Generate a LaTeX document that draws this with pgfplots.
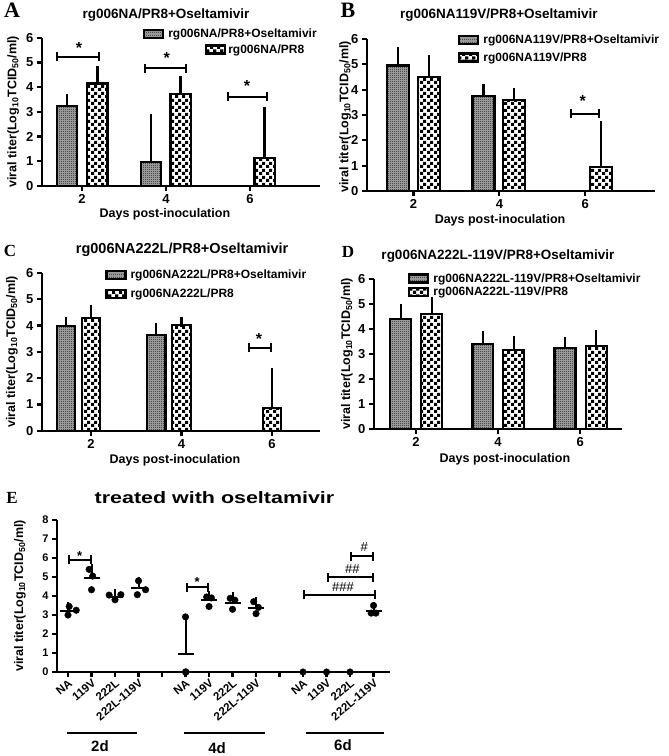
\documentclass[border=0pt]{standalone}
\usepackage{fontspec}
\setmainfont{Liberation Sans}
\newfontfamily\seriffont{Liberation Serif}
\usepackage{pgfplots}
\pgfplotsset{compat=1.18}
\usetikzlibrary{patterns,arrows.meta}

\pgfdeclarepatternformonly{bigchk}{\pgfpointorigin}{\pgfpoint{7pt}{7pt}}{\pgfpoint{7pt}{7pt}}{%
  \pgfpathrectangle{\pgfpointorigin}{\pgfpoint{3.5pt}{3.5pt}}%
  \pgfpathrectangle{\pgfpoint{3.5pt}{3.5pt}}{\pgfpoint{3.5pt}{3.5pt}}%
  \pgfusepath{fill}}
\pgfdeclarepatternformonly{finedot}{\pgfpointorigin}{\pgfpoint{2.4pt}{2.4pt}}{\pgfpoint{2.4pt}{2.4pt}}{%
  \pgfpathrectangle{\pgfpointorigin}{\pgfpoint{1.2pt}{1.2pt}}%
  \pgfusepath{fill}}

\newcommand{\fs}[1]{\bfseries\fontsize{#1}{#1}\selectfont}
\tikzset{brk/.style={line width=2pt, {Bar[width=9pt]}-{Bar[width=9pt]}}}

\pgfplotsset{
  gp/.style={
    scale only axis, anchor=south west,
    axis x line*=bottom, axis y line*=left,
    axis line style={line width=2.2pt},
    tick style={line width=2.2pt, black},
    major tick length=5pt, tick align=outside,
    ymin=0, ymax=6, ytick={0,...,6}, xtick={2,4,6},
    tick label style={font=\fs{13}},
    /pgf/number format/assume math mode=true,
    clip=false,
    legend style={draw=none, fill=none, font=\fs{12}, anchor=north west,
      legend cell align=left, inner sep=0pt, nodes={inner xsep=4pt, inner ysep=1pt}},
    label style={font=\fs{12.5}},
    title style={font=\fs{13.5}, anchor=center, yshift=-6pt},
    xlabel style={anchor=center},
    ylabel style={anchor=center},
  },
  bars/.style={ybar, bar shift=0pt, bar width=#1, draw=black, line width=2.2pt,
    legend image code/.code={\draw[##1] (0pt,-4pt) rectangle (19pt,4pt);},
    /pgfplots/error bars/y dir=plus, /pgfplots/error bars/y explicit,
    /pgfplots/error bars/error bar style={line width=2.2pt, solid},
    /pgfplots/error bars/error mark options={line width=2.2pt, mark size=5pt, solid}},
  shiftleg/.style={legend image code/.code={\draw[##1, overlay] (62pt,-4pt) rectangle (81pt,4pt);}},
  osel/.style={fill=black!40, postaction={pattern=finedot, pattern color=black!70}},
  ctrl/.style={fill=white, postaction={pattern=bigchk}},
}

\begin{document}
\begin{tikzpicture}
\path[use as bounding box] (0,0) rectangle (669pt,756pt);

% ---------------- A ----------------
\begin{axis}[gp, at={(42pt,570pt)}, width=278pt, height=148.3pt,
  xmin=1.05, xmax=7.67,
  title={rg006NA/PR8+Oseltamivir}, title style={at={(0.446,1.153)}},
  xlabel={Days post-inoculation}, xlabel style={at={(0.442,-0.189)}},
  ylabel={viral titer(Log\textsubscript{10}TCID\textsubscript{50}/ml)}, ylabel style={at={(-0.104,0.5)}},
  legend style={at={(0.363,1.065)}, row sep=3pt}]
\addplot[bars=0.48, osel] coordinates {(1.64,3.23) +- (0,0.29) (3.64,0.97) +- (0,1.73)};
\addlegendentry{rg006NA/PR8+Oseltamivir}
\addplot[bars=0.48, ctrl, shiftleg] coordinates {(2.37,4.15) +- (0,0.51) (4.35,3.72) +- (0,0.53) (6.35,1.12) +- (0,1.88)};
\addlegendentry{\hspace*{60pt}rg006NA/PR8}
\draw[brk] (axis cs:1.38,5.23) -- (axis cs:2.43,5.23);
\draw[brk] (axis cs:3.48,4.76) -- (axis cs:4.50,4.76);
\draw[brk] (axis cs:5.45,3.61) -- (axis cs:6.43,3.61);
\node[font=\fs{16}, anchor=base] at (axis cs:1.93,5.38) {*};
\node[font=\fs{16}, anchor=base] at (axis cs:4.02,4.97) {*};
\node[font=\fs{16}, anchor=base] at (axis cs:5.93,3.83) {*};
\node[font=\seriffont\bfseries\fontsize{22}{22}\selectfont] at (axis description cs:-0.108,1.183) {A};
\end{axis}

% ---------------- B ----------------
\begin{axis}[gp, at={(367pt,565pt)}, width=288pt, height=152pt,
  xmin=0.92, xmax=7.62,
  title={rg006NA119V/PR8+Oseltamivir}, title style={at={(0.458,1.158)}},
  xlabel={Days post-inoculation}, xlabel style={at={(0.462,-0.19)}},
  ylabel={viral titer(Log\textsubscript{10}TCID\textsubscript{50}/ml)}, ylabel style={at={(-0.076,0.487)}},
  legend style={at={(0.316,1.033)}, row sep=5pt}]
\addplot[bars=0.51, osel] coordinates {(1.64,4.95) +- (0,0.54) (3.63,3.76) +- (0,0.28)};
\addlegendentry{rg006NA119V/PR8+Oseltamivir}
\addplot[bars=0.51, ctrl] coordinates {(2.36,4.49) +- (0,0.69) (4.34,3.60) +- (0,0.27) (6.36,0.96) +- (0,1.61)};
\addlegendentry{rg006NA119V/PR8}
\draw[brk] (axis cs:5.64,3.05) -- (axis cs:6.34,3.05);
\node[font=\fs{16}, anchor=base] at (axis cs:5.94,3.35) {*};
\node[font=\seriffont\bfseries\fontsize{22}{22}\selectfont] at (axis description cs:-0.066,1.187) {B};
\end{axis}

% ---------------- C ----------------
\begin{axis}[gp, at={(42pt,325.3pt)}, width=278pt, height=157.7pt,
  xmin=0.917, xmax=7.06,
  title={rg006NA222L/PR8+Oseltamivir}, title style={at={(0.504,1.146)}, font=\fs{14.5}},
  xlabel={Days post-inoculation}, xlabel style={at={(0.478,-0.186)}},
  ylabel={viral titer(Log\textsubscript{10}TCID\textsubscript{50}/ml)}, ylabel style={at={(-0.108,0.5)}},
  legend style={at={(0.227,1.026)}, row sep=7pt}]
\addplot[bars=0.41, osel] coordinates {(1.45,3.97) +- (0,0.16) (3.44,3.65) +- (0,0.27)};
\addlegendentry{rg006NA222L/PR8+Oseltamivir}
\addplot[bars=0.41, ctrl] coordinates {(2.0,4.29) +- (0,0.32) (4.0,4.01) +- (0,0.12) (6.0,0.85) +- (0,1.35)};
\addlegendentry{rg006NA222L/PR8}
\draw[brk] (axis cs:5.47,3.16) -- (axis cs:6.0,3.16);
\node[font=\fs{16}, anchor=base] at (axis cs:5.71,3.27) {*};
\node[font=\seriffont\bfseries\fontsize{17}{17}\selectfont] at (axis description cs:-0.115,1.14) {C};
\end{axis}

% ---------------- D ----------------
\begin{axis}[gp, at={(374pt,327pt)}, width=248pt, height=150pt,
  xmin=0.976, xmax=7.02,
  title={rg006NA222L-119V/PR8+Oseltamivir}, title style={at={(0.5,1.153)}},
  xlabel={Days post-inoculation}, xlabel style={at={(0.528,-0.2)}},
  ylabel={viral titer(Log\textsubscript{10}TCID\textsubscript{50}/ml)}, ylabel style={at={(-0.109,0.5)}},
  legend style={at={(0.137,1.045)}, row sep=1pt}]
\addplot[bars=0.51, osel] coordinates {(1.63,4.39) +- (0,0.40) (3.63,3.39) +- (0,0.33) (5.63,3.23) +- (0,0.26)};
\addlegendentry{rg006NA222L-119V/PR8+Oseltamivir}
\addplot[bars=0.51, ctrl] coordinates {(2.38,4.59) +- (0,0.48) (4.38,3.16) +- (0,0.36) (6.39,3.33) +- (0,0.43)};
\addlegendentry{rg006NA222L-119V/PR8}
\node[font=\seriffont\bfseries\fontsize{17}{17}\selectfont] at (axis description cs:-0.105,1.18) {D};
\end{axis}

% ---------------- E ----------------
\begin{axis}[gp, at={(57pt,84pt)}, width=333pt, height=152pt,
  xmin=-0.468, xmax=13.7, ymin=0, ymax=8, ytick={0,...,8}, xtick={0,...,13},
  xticklabels={NA,119V,222L,222L-119V,{},NA,119V,222L,222L-119V,{},NA,119V,222L,222L-119V},
  x tick label style={rotate=40, anchor=north east, font=\fs{11.5}, inner sep=1pt},
  y tick label style={font=\fs{11}},
  title={\scalebox{1.3}[1]{treated with oseltamivir}}, title style={at={(0.473,1.145)}, font=\fs{16.5}},
  ylabel={viral titer(Log\textsubscript{10}TCID\textsubscript{50}/ml)}, ylabel style={at={(-0.111,0.5)}}]
% individual animals
\addplot[only marks, mark=*, mark size=3.3pt, black] coordinates {
  (0,3.0) (0.35,3.25) (0.05,3.45)
  (0.9,5.4) (1.05,5.05) (1.0,4.33)
  (1.75,4.05) (2.0,3.8) (2.25,4.07)
  (3.0,4.8) (2.95,4.07) (3.3,4.33)
  (5,2.9) (5,0) (5.02,0)
  (5.9,3.95) (6.1,3.9) (6.0,3.45)
  (6.9,3.88) (7.1,3.78) (7.0,3.3)
  (7.9,3.7) (8.1,3.4) (8.0,3.07)
  (10,0) (11,0) (12,0)
  (13.0,3.5) (12.9,3.1) (13.1,3.1)};
% mean with SD
\addplot[only marks, mark=-, mark size=8pt, mark options={line width=2pt}, black,
  error bars/.cd, y dir=plus, y explicit, error bar style={line width=2pt},
  error mark options={line width=2pt, mark size=4.5pt}] coordinates {
  (0,3.233) +- (0,0.225)
  (1,4.927) +- (0,0.546)
  (2,3.973) +- (0,0.151)
  (3,4.400) +- (0,0.370)
  (5,0.967) +- (0,1.674)
  (6,3.767) +- (0,0.275)
  (7,3.653) +- (0,0.310)
  (8,3.390) +- (0,0.315)
  (13,3.233) +- (0,0.231)};
% significance
\draw[brk] (axis cs:0,5.9) -- (axis cs:1,5.9);
\draw[brk] (axis cs:5,4.45) -- (axis cs:6,4.45);
\draw[brk] (axis cs:12,6.1) -- (axis cs:13,6.1);
\draw[brk] (axis cs:11,5.0) -- (axis cs:13,5.0);
\draw[brk] (axis cs:10,4.07) -- (axis cs:13.1,4.07);
\node[font=\fs{13}, anchor=base] at (axis cs:0.5,5.87) {*};
\node[font=\fs{13}, anchor=base] at (axis cs:5.5,4.52) {*};
\node[font=\fontsize{13}{13}\selectfont, anchor=base] at (axis cs:12.6,6.33) {\#};
\node[font=\fontsize{13}{13}\selectfont, anchor=base] at (axis cs:12.1,5.18) {\#\#};
\node[font=\fontsize{13}{13}\selectfont, anchor=base] at (axis cs:11.7,4.25) {\#\#\#};
% groups
\draw[line width=2.2pt] (axis cs:-0.04,-3.21) -- (axis cs:2.94,-3.21);
\draw[line width=2.2pt] (axis cs:4.94,-3.21) -- (axis cs:8.38,-3.21);
\draw[line width=2.2pt] (axis cs:10.13,-3.21) -- (axis cs:13.45,-3.21);
\node[font=\fs{15}] at (axis cs:1.36,-3.89) {2d};
\node[font=\fs{15}] at (axis cs:6.34,-4.0) {4d};
\node[font=\fs{15}] at (axis cs:11.7,-3.84) {6d};
\node[font=\seriffont\bfseries\fontsize{17}{17}\selectfont] at (axis description cs:-0.135,1.145) {E};
\end{axis}
\end{tikzpicture}
\end{document}
